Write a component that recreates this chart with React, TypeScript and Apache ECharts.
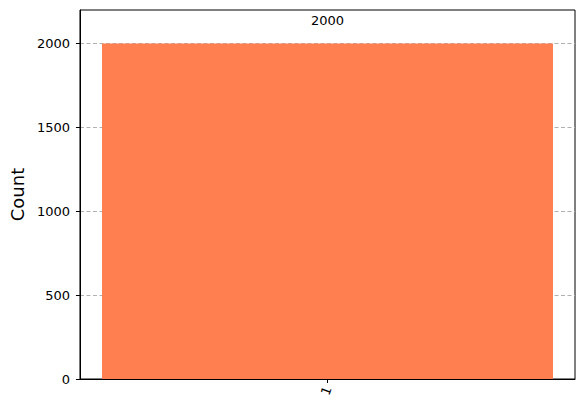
import React, { useEffect, useRef } from "react";
import * as echarts from "echarts";

const categories = ["1"];
const counts = [2000];
const yTicks = [0, 500, 1000, 1500, 2000];
const yMax = 2200;

const FONT = "DejaVu Sans";

export default function App() {
  const ref = useRef<HTMLDivElement>(null);
  useEffect(() => {
    if (!ref.current) return;
    const chart = echarts.init(ref.current, null, { renderer: "svg" });
    chart.setOption({
      animation: false,
      backgroundColor: "#ffffff",
      textStyle: { fontFamily: FONT },
      grid: {
        left: 79,
        right: 10,
        top: 10,
        bottom: 33,
        show: true,
        borderColor: "#000000",
        borderWidth: 1,
        backgroundColor: "transparent",
      },
      xAxis: {
        type: "category",
        data: categories,
        boundaryGap: true,
        axisLine: { show: true, lineStyle: { color: "#000", width: 1 } },
        axisTick: { show: true, alignWithLabel: true, length: 4, lineStyle: { color: "#000", width: 1 } },
        axisLabel: { rotate: 70, color: "#000", fontSize: 13, fontFamily: FONT, margin: 8 },
        splitLine: { show: false },
      },
      yAxis: {
        type: "value",
        min: 0,
        max: yMax,
        interval: 500,
        name: "Count",
        nameLocation: "middle",
        nameGap: 53,
        nameTextStyle: { fontSize: 18, color: "#000", fontFamily: FONT },
        axisLine: { show: true, lineStyle: { color: "#000", width: 1 } },
        axisTick: { show: true, length: 4, lineStyle: { color: "#000", width: 1 }, customValues: yTicks },
        axisLabel: {
          color: "#000",
          fontSize: 13,
          fontFamily: FONT,
          margin: 10,
          customValues: yTicks,
          formatter: (v: number) => String(v),
        },
        splitLine: { show: true, lineStyle: { color: "#b0b0b0", type: [4, 2.5], width: 1 } },
      },
      series: [
        {
          type: "bar",
          data: counts,
          barWidth: 451,
          z: 3,
          itemStyle: { color: "#FF7F50" },
          label: {
            show: true,
            position: "top",
            distance: 17,
            color: "#000",
            fontSize: 13,
            fontFamily: FONT,
          },
        },
      ],
    });
    return () => chart.dispose();
  }, []);
  return (
    <div
      ref={ref}
      style={{ position: "fixed", left: 0, top: 0, width: 585, height: 412 }}
    />
  );
}
